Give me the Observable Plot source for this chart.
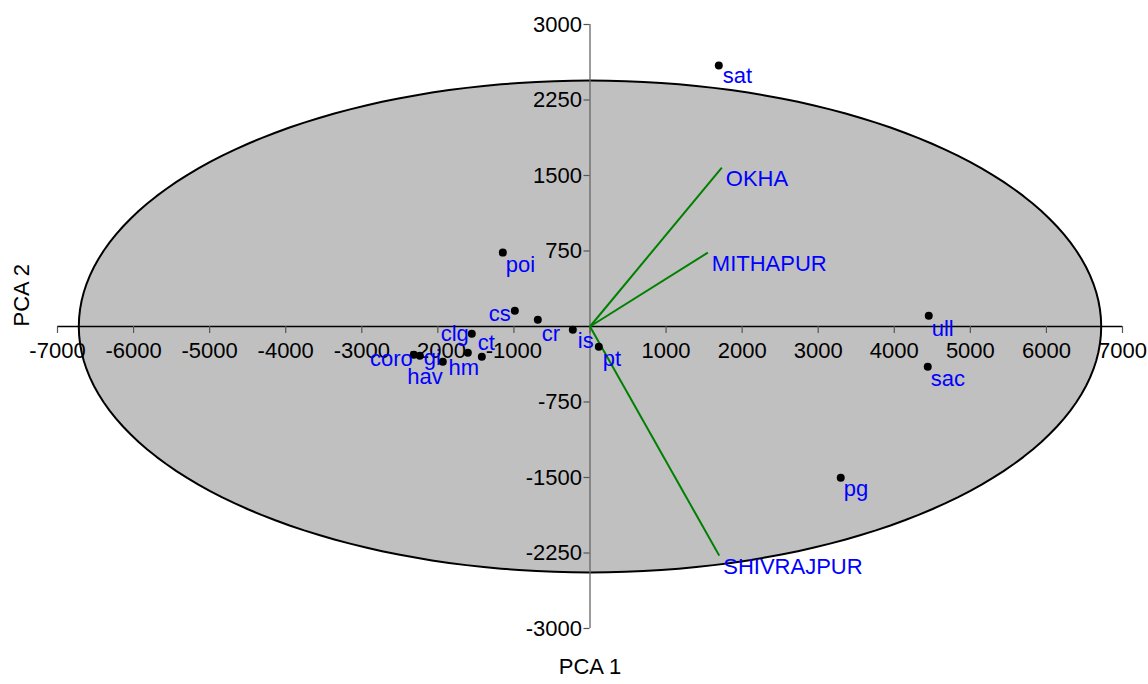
<!DOCTYPE html>
<html>
<head>
<meta charset="utf-8">
<script src="https://cdn.jsdelivr.net/npm/d3@7"></script>
<script src="https://cdn.jsdelivr.net/npm/@observablehq/plot@0.6"></script>
<style>
  html, body { margin: 0; padding: 0; background: #ffffff; }
  #chart svg { display: block; }
</style>
</head>
<body>
<div id="chart"></div>
<script>
// ---- data ----
const names = ["sat", "poi", "cs", "cr", "is", "pt", "clg", "hm", "ct", "hav", "coro", "gi", "ull", "sac", "pg"];
const pc1 = [1693, -1146, -988, -686, -226, 116, -1554, -1606, -1422, -1935, -2316, -2237, 4453, 4440, 3296];
const pc2 = [2592, 734, 157, 68, -32, -201, -72, -260, -300, -350, -280, -290, 107, -400, -1503];

const variables = ["OKHA", "MITHAPUR", "SHIVRAJPUR"];
const load1 = [1733, 1549, 1699];
const load2 = [1579, 734, -2276];

const xTicks = [-7000, -6000, -5000, -4000, -3000, -2000, -1000, 0, 1000, 2000, 3000, 4000, 5000, 6000, 7000];
const yTicks = [-3000, -2250, -1500, -750, 0, 750, 1500, 2250, 3000];

// 95% ellipse parameters (center, semi-axes)
const ellCx = 0, ellCy = 0, ellRx = 6720, ellRy = 2443;

// ---- build ----
const points = names.map((n, i) => ({name: n, x: pc1[i], y: pc2[i]}));
const loads = variables.map((v, i) => ({name: v, x: load1[i], y: load2[i]}));
const ellipse = d3.range(0, 361, 2).map(a => {
  const t = a * Math.PI / 180;
  return {x: ellCx + ellRx * Math.cos(t), y: ellCy + ellRy * Math.sin(t)};
});

const W = 1148, H = 684;
const mL = 57, mR = 26, mT = 24, mB = 56;
const pxPerX = (W - mL - mR) / 14000;
const pxPerY = (H - mT - mB) / 6000;
const tickX = 7 / pxPerY;   // x-axis tick length in y-units
const tickY = 6 / pxPerX;   // y-axis tick length in x-units

const blue = "#0000ff";
const font = "'Liberation Sans', Arial, Helvetica, sans-serif";
const FS = 22;

// label placement per point
const place = {
  cs:   {a: "end",    dx: -4, dy: 3},
  clg:  {a: "end",    dx: -3, dy: 0},
  coro: {a: "end",    dx: -1, dy: 4},
  gi:   {a: "start",  dx: 4,  dy: 2},
  hav:  {a: "end",    dx: 0,  dy: 15},
  hm:   {a: "middle", dx: -4, dy: 15},
  ct:   {a: "start",  dx: -4, dy: -14},
  cr:   {a: "start",  dx: 4,  dy: 14},
  is:   {a: "start",  dx: 5,  dy: 11},
  pt:   {a: "start",  dx: 4,  dy: 12},
  ull:  {a: "start",  dx: 3,  dy: 13},
  sac:  {a: "start",  dx: 3,  dy: 12},
  pg:   {a: "start",  dx: 3,  dy: 11},
  poi:  {a: "start",  dx: 3,  dy: 12},
  sat:  {a: "start",  dx: 4,  dy: 10}
};

const labelMarks = points.map(p => {
  const o = place[p.name] || {a: "start", dx: 4, dy: 11};
  return Plot.text([p], {x: "x", y: "y", text: "name", fill: blue, fontSize: FS,
    textAnchor: o.a, dx: o.dx, dy: o.dy});
});

const chart = Plot.plot({
  width: W, height: H,
  marginLeft: mL, marginRight: mR, marginTop: mT, marginBottom: mB,
  x: {domain: [-7000, 7000], axis: null},
  y: {domain: [-3000, 3000], axis: null},
  style: {fontFamily: font, fontSize: FS + "px", background: "#ffffff", overflow: "visible"},
  marks: [
    Plot.line(ellipse, {x: "x", y: "y", fill: "#c0c0c0", stroke: "#000000", strokeWidth: 2}),
    // axes
    Plot.ruleY([0], {x1: -7000, x2: 7000, stroke: "#000000", strokeWidth: 1.3}),
    Plot.ruleX([0], {y1: -3000, y2: 3000, stroke: "#666666", strokeWidth: 1.3}),
    Plot.ruleX(xTicks, {x: d => d, y1: 0, y2: -tickX, stroke: "#555555", strokeWidth: 1.2}),
    Plot.ruleY(yTicks.filter(d => d !== 0), {y: d => d, x1: -tickY, x2: 0, stroke: "#555555", strokeWidth: 1.2}),
    Plot.text(xTicks.filter(d => d !== 0), {x: d => d, y: 0, dy: 24, text: d => String(d), fill: "#000000", fontSize: FS}),
    Plot.text(yTicks.filter(d => d !== 0), {x: 0, y: d => d, dx: -8, text: d => String(d), textAnchor: "end", fill: "#000000", fontSize: FS}),
    // loadings
    Plot.link(loads, {x1: 0, y1: 0, x2: "x", y2: "y", stroke: "#008000", strokeWidth: 2}),
    Plot.text(loads, {x: "x", y: "y", text: "name", textAnchor: "start", dx: 4, dy: 11, fill: blue, fontSize: FS}),
    // points
    Plot.dot(points, {x: "x", y: "y", r: 4, fill: "#000000", stroke: "none"}),
    ...labelMarks,
    // axis titles
    Plot.text(["PCA 1"], {frameAnchor: "bottom", dy: 45, text: d => d, fill: "#000000", fontSize: FS}),
    Plot.text(["PCA 2"], {frameAnchor: "left", dx: -36, rotate: -90, text: d => d, fill: "#000000", fontSize: FS})
  ]
});
document.getElementById("chart").appendChild(chart);
</script>
</body>
</html>
